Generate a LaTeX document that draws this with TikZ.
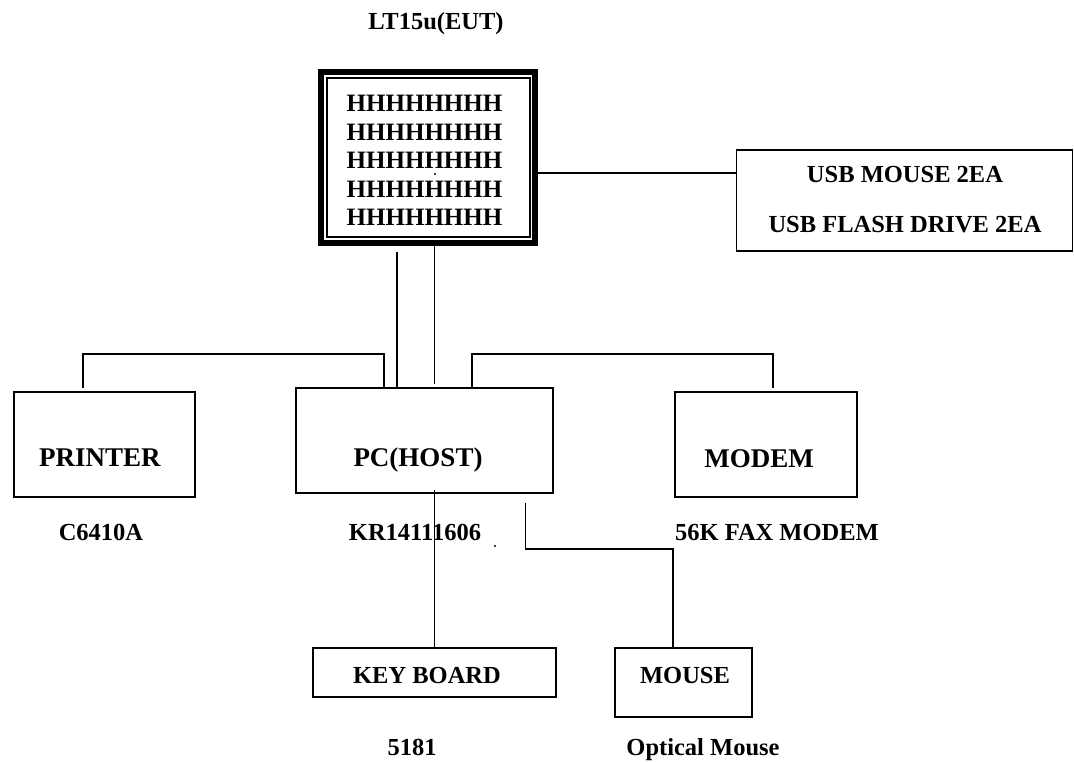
\documentclass[tikz,border=0pt]{standalone}
\usepackage{fontspec}
\setmainfont{Liberation Serif}
\usepackage{tikz}

\tikzset{
  box/.style={draw=black, line width=1.5pt, inner sep=0pt, outer sep=0pt},
  wire/.style={line width=1.5pt},
  lbl/.style={inner sep=0pt, anchor=base, font=\bfseries\fontsize{24.5}{28.5}\selectfont},
  biglbl/.style={lbl, font=\bfseries\fontsize{27}{31}\selectfont}
}

\begin{document}
\begin{tikzpicture}[x=1pt, y=-1pt]
\useasboundingbox (0,0) rectangle (1074,762);

\node [lbl] (title) at (436,30) {LT15u(EUT)};

\node [box, line width=6pt, minimum width=214pt, minimum height=171pt] (eut) at (428,157.5) {};
\node [box, minimum width=203pt, minimum height=159pt] (eutin) at (428.5,157.5) {};
\node [lbl, anchor=center, align=center, font=\bfseries\fontsize{25}{28.5}\selectfont] (scr) at (424.5,160.5)
  {HHHHHHHH\\HHHHHHHH\\HHHHHHHH\\HHHHHHHH\\HHHHHHHH};

\node [box, minimum width=336pt, minimum height=101pt] (usb) at (904.5,200.5) {};
\node [lbl] (usb1) at (905,183) {USB MOUSE 2EA};
\node [lbl] (usb2) at (905,233) {USB FLASH DRIVE 2EA};

\node [box, minimum width=181pt, minimum height=105pt] (printer) at (104.5,444.5) {};
\node [box, minimum width=257pt, minimum height=105pt] (pc) at (424.5,440.5) {};
\node [box, minimum width=182pt, minimum height=105pt] (modem) at (766,444.5) {};
\node [biglbl] (printer-t) at (100,466) {PRINTER};
\node [biglbl] (pc-t) at (418,466) {PC(HOST)};
\node [biglbl] (modem-t) at (759,467) {MODEM};

\node [lbl] (printer-m) at (101,540) {C6410A};
\node [lbl] (pc-m) at (415,540) {KR14111606};
\node [lbl] (modem-m) at (777,540) {56K FAX MODEM};

\node [box, minimum width=243pt, minimum height=49pt] (kbd) at (434.5,672.5) {};
\node [box, minimum width=137pt, minimum height=69pt] (mouse) at (683.5,682.5) {};
\node [lbl] (kbd-t) at (427,683) {KEY BOARD};
\node [lbl] (mouse-t) at (685,683) {MOUSE};

\node [lbl] (kbd-m) at (412,755) {5181};
\node [lbl] (mouse-m) at (703,755) {Optical Mouse};

% cables
\draw [wire] ([yshift=-15.5pt]eut.east) -- ([yshift=-15.5pt]eut.east -| usb.west);
\draw [wire] ([xshift=-27.5pt]pc.north) -- ++(0,-136);
\draw [wire] ([xshift=6.5pt]eut.south) -- ++(0,141);
\draw [wire] ([xshift=-40.5pt]pc.north) -- ++(0,-34) -| ([xshift=-21.5pt,yshift=4pt]printer.north);
\draw [wire] ([xshift=47.5pt]pc.north) -- ++(0,-34) -| ([xshift=7pt,yshift=4pt]modem.north);
\draw [wire] ([yshift=3pt]pc.south -| kbd.north) -- (kbd.north);
\draw [wire] ([xshift=101pt,yshift=-10pt]pc.south) -- ++(0,46) -| ([xshift=-10.5pt]mouse.north);

\fill (435,174) circle (1.2pt);
\fill (495,546) circle (1.2pt);
\end{tikzpicture}
\end{document}
